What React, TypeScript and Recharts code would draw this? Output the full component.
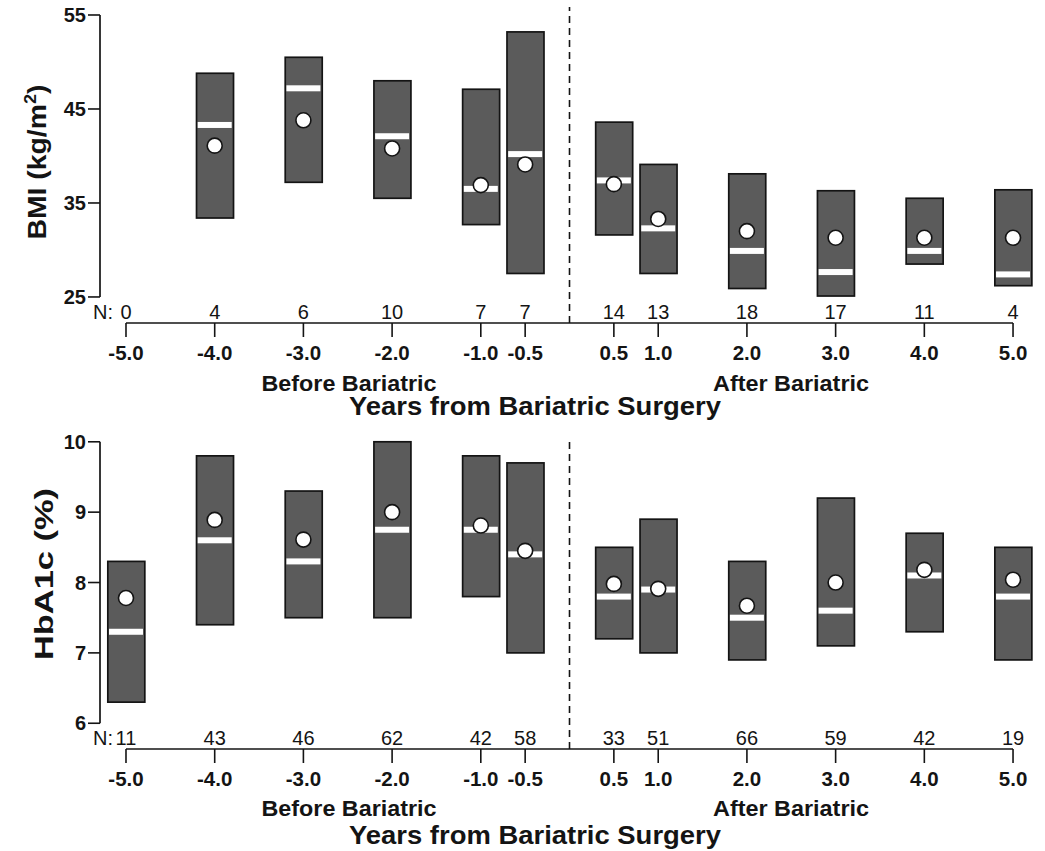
import React from 'react';
import { ComposedChart, Bar, Scatter, XAxis, YAxis, ReferenceLine } from 'recharts';

// ---------- data ----------
const YEARS = [-5, -4, -3, -2, -1, -0.5, 0.5, 1, 2, 3, 4, 5];
const YEAR_LABELS = ['-5.0', '-4.0', '-3.0', '-2.0', '-1.0', '-0.5', '0.5', '1.0', '2.0', '3.0', '4.0', '5.0'];

const BMI_N = [0, 4, 6, 10, 7, 7, 14, 13, 18, 17, 11, 4];
const BMI_LOW = [null, 33.4, 37.2, 35.5, 32.7, 27.5, 31.6, 27.5, 25.9, 25.1, 28.5, 26.2];
const BMI_HIGH = [null, 48.8, 50.5, 48.0, 47.1, 53.2, 43.6, 39.1, 38.1, 36.3, 35.5, 36.4];
const BMI_MEDIAN = [null, 43.3, 47.2, 42.1, 36.5, 40.2, 37.4, 32.3, 29.9, 27.65, 29.9, 27.4];
const BMI_MEAN = [null, 41.1, 43.8, 40.8, 36.9, 39.1, 37.0, 33.3, 32.0, 31.3, 31.3, 31.3];
const BMI_TICKS = [25, 35, 45, 55];

const HBA_N = [11, 43, 46, 62, 42, 58, 33, 51, 66, 59, 42, 19];
const HBA_LOW = [6.3, 7.4, 7.5, 7.5, 7.8, 7.0, 7.2, 7.0, 6.9, 7.1, 7.3, 6.9];
const HBA_HIGH = [8.3, 9.8, 9.3, 10.0, 9.8, 9.7, 8.5, 8.9, 8.3, 9.2, 8.7, 8.5];
const HBA_MEDIAN = [7.3, 8.6, 8.3, 8.75, 8.75, 8.4, 7.8, 7.9, 7.5, 7.6, 8.1, 7.8];
const HBA_MEAN = [7.78, 8.89, 8.61, 9.0, 8.81, 8.45, 7.98, 7.91, 7.67, 8.0, 8.18, 8.04];
const HBA_TICKS = [6, 7, 8, 9, 10];

// ---------- style ----------
const FONT = '"Liberation Sans", Arial, Helvetica, sans-serif';
const INK = '#141414';
const BOX_FILL = '#5b5b5b';
const BOX_W = 37;
const MED_W = 34;
const X_DOMAIN: [number, number] = [-5.293, 5.304];

type Row = { year: number; range: number[] | null; median: number | null; mean: number | null };

function buildRows(lo: (number | null)[], hi: (number | null)[], med: (number | null)[], mean: (number | null)[]): Row[] {
  return YEARS.map((year, i) => ({
    year,
    range: lo[i] == null || hi[i] == null ? null : [lo[i] as number, hi[i] as number],
    median: med[i],
    mean: mean[i],
  }));
}

const BoxShape = (props: any) => {
  const { x, y, width, height, payload } = props;
  if (!payload || payload.range == null || !isFinite(y) || !isFinite(height)) return <g />;
  const top = Math.min(y, y + height);
  const h = Math.abs(height);
  const cx = x + width / 2;
  return <rect x={cx - BOX_W / 2} y={top} width={BOX_W} height={h} fill={BOX_FILL} stroke={INK} strokeWidth={1.7} />;
};

const MedianShape = (props: any) => {
  const { cx, cy } = props;
  if (!isFinite(cx) || !isFinite(cy)) return <g />;
  return <rect x={cx - MED_W / 2} y={cy - 3} width={MED_W} height={6} fill="#ffffff" />;
};

const MeanShape = (props: any) => {
  const { cx, cy } = props;
  if (!isFinite(cx) || !isFinite(cy)) return <g />;
  return <circle cx={cx} cy={cy} r={7.5} fill="#ffffff" stroke={INK} strokeWidth={1.6} />;
};

const makeTick = (nValues: number[]) => (props: any) => {
  const { x, y, payload } = props;
  const i = YEARS.indexOf(payload.value);
  if (i < 0) return <g />;
  return (
    <g>
      <text x={x} y={y + 23} textAnchor="middle" fontFamily={FONT} fontWeight="bold" fontSize={20.5} fill={INK}>
        {YEAR_LABELS[i]}
      </text>
      <text x={x} y={y - 18} textAnchor="middle" fontFamily={FONT} fontSize={20} fill={INK}>
        {nValues[i]}
      </text>
      {i === 0 && (
        <text x={x - 13} y={y - 18} textAnchor="end" fontFamily={FONT} fontSize={20} fill={INK}>
          N:
        </text>
      )}
    </g>
  );
};

type PanelProps = {
  height: number;
  marginTop: number;
  xAxisHeight: number;
  yDomain: [number, number];
  yTicks: number[];
  rows: Row[];
  nValues: number[];
  yLabel: React.ReactNode;
  yLabelX: number;
  yLabelY: number;
  yLabelLen: number;
  yLabelSize: number;
  subBaseline: number;
  titleBaseline: number;
};

function Panel(p: PanelProps) {
  const scatterRows = p.rows.filter((r) => r.median != null);
  const yMin = p.yDomain[0];
  return (
    <div style={{ position: 'relative', width: 1045, height: p.height }}>
      <ComposedChart
        width={1045}
        height={p.height}
        data={p.rows}
        margin={{ top: p.marginTop, right: 5, bottom: 0, left: 0 }}
      >
        <XAxis
          type="number"
          dataKey="year"
          domain={X_DOMAIN}
          ticks={YEARS}
          interval={0}
          allowDataOverflow
          axisLine={false}
          tickLine={{ stroke: INK, strokeWidth: 1.6 }}
          tickSize={14}
          tickMargin={0}
          height={p.xAxisHeight}
          tick={makeTick(p.nValues)}
        />
        <YAxis
          type="number"
          domain={p.yDomain}
          ticks={p.yTicks}
          interval={0}
          allowDataOverflow
          width={100}
          axisLine={false}
          tickLine={{ stroke: INK, strokeWidth: 1.6 }}
          tickSize={12}
          tickMargin={2}
          tick={{ fontFamily: FONT, fontWeight: 'bold', fontSize: 20, fill: INK }}
        />
        <ReferenceLine
          segment={[{ x: X_DOMAIN[0], y: p.yTicks[0] }, { x: X_DOMAIN[0], y: p.yTicks[p.yTicks.length - 1] }]}
          stroke={INK}
          strokeWidth={1.7}
        />
        <ReferenceLine
          segment={[{ x: YEARS[0], y: yMin }, { x: YEARS[YEARS.length - 1], y: yMin }]}
          stroke={INK}
          strokeWidth={1.7}
        />
        <ReferenceLine x={0} stroke={INK} strokeWidth={1.6} strokeDasharray="7 5" />
        <Bar dataKey="range" barSize={BOX_W} shape={BoxShape} isAnimationActive={false} />
        <Scatter data={scatterRows} dataKey="median" shape={MedianShape} isAnimationActive={false} />
        <Scatter data={scatterRows} dataKey="mean" shape={MeanShape} isAnimationActive={false} />
      </ComposedChart>
      <svg
        width={1045}
        height={p.height}
        style={{ position: 'absolute', left: 0, top: 0, pointerEvents: 'none', overflow: 'visible' }}
      >
        <text
          transform={`translate(${p.yLabelX},${p.yLabelY}) rotate(-90)`}
          textAnchor="middle"
          fontFamily={FONT}
          fontWeight="bold"
          fontSize={p.yLabelSize}
          fill={INK}
          textLength={p.yLabelLen}
          lengthAdjust="spacingAndGlyphs"
        >
          {p.yLabel}
        </text>
        <text x={349} y={p.subBaseline} textAnchor="middle" fontFamily={FONT} fontWeight="bold" fontSize={22} fill={INK} textLength={175} lengthAdjust="spacingAndGlyphs">
          Before Bariatric
        </text>
        <text x={791} y={p.subBaseline} textAnchor="middle" fontFamily={FONT} fontWeight="bold" fontSize={22} fill={INK} textLength={156} lengthAdjust="spacingAndGlyphs">
          After Bariatric
        </text>
        <text x={535} y={p.titleBaseline} textAnchor="middle" fontFamily={FONT} fontWeight="bold" fontSize={25} fill={INK} textLength={372} lengthAdjust="spacingAndGlyphs">
          Years from Bariatric Surgery
        </text>
      </svg>
    </div>
  );
}

export default function App() {
  const bmiRows = buildRows(BMI_LOW, BMI_HIGH, BMI_MEDIAN, BMI_MEAN);
  const hbaRows = buildRows(HBA_LOW, HBA_HIGH, HBA_MEDIAN, HBA_MEAN);
  return (
    <div style={{ position: 'absolute', left: 0, top: 0, width: 1045, height: 851, background: '#ffffff', overflow: 'hidden' }}>
      <Panel
        height={420}
        marginTop={7}
        xAxisHeight={97}
        yDomain={[22.23, 55.85]}
        yTicks={BMI_TICKS}
        rows={bmiRows}
        nValues={BMI_N}
        yLabel={
          <>
            BMI (kg/m<tspan dy={-10} fontSize={16}>2</tspan>
            <tspan dy={10}>)</tspan>
          </>
        }
        yLabelX={46}
        yLabelY={162}
        yLabelLen={155}
        yLabelSize={25}
        subBaseline={391}
        titleBaseline={415}
      />
      <Panel
        height={431}
        marginTop={17}
        xAxisHeight={102}
        yDomain={[5.634, 10.068]}
        yTicks={HBA_TICKS}
        rows={hbaRows}
        nValues={HBA_N}
        yLabel={<>HbA1c (%)</>}
        yLabelX={53}
        yLabelY={154}
        yLabelLen={172}
        yLabelSize={26}
        subBaseline={396}
        titleBaseline={424}
      />
    </div>
  );
}
